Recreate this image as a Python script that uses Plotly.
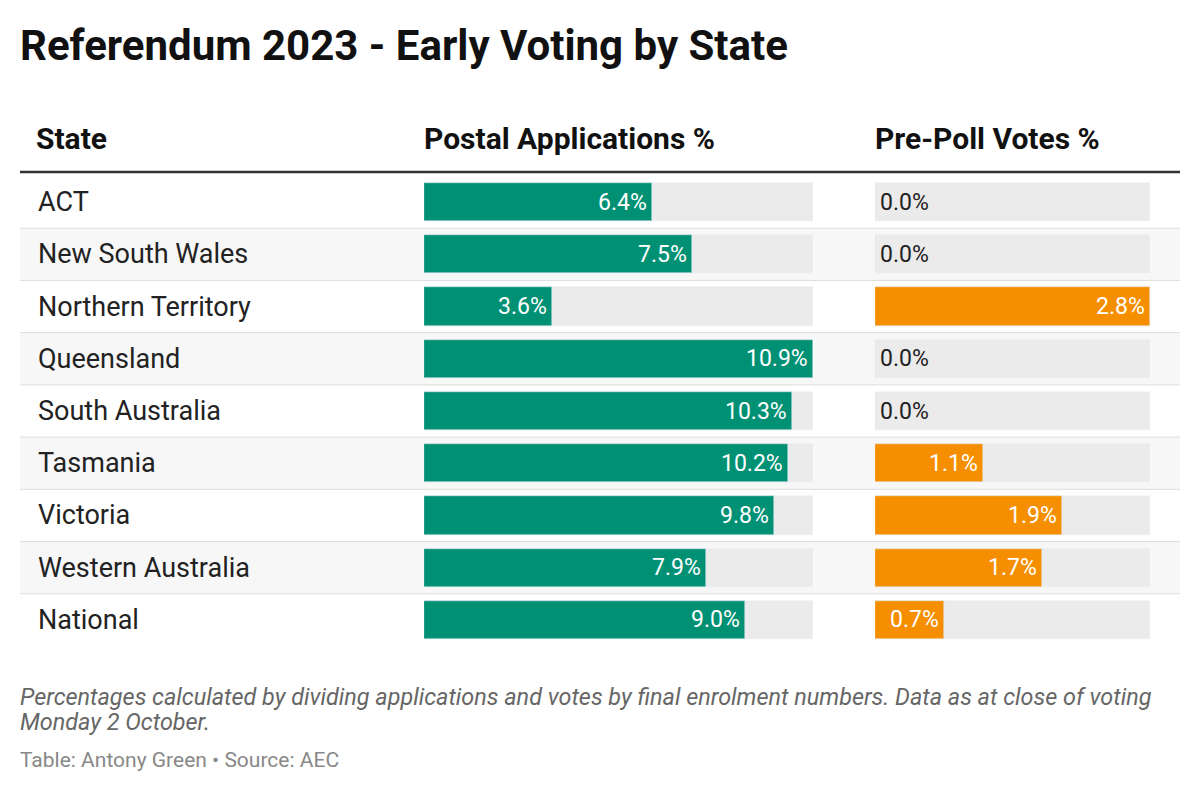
import plotly.graph_objects as go

states = ["ACT", "New South Wales", "Northern Territory", "Queensland", "South Australia",
          "Tasmania", "Victoria", "Western Australia", "National"]
postal = [6.4, 7.5, 3.6, 10.9, 10.3, 10.2, 9.8, 7.9, 9.0]
prepoll = [0.0, 0.0, 2.8, 0.0, 0.0, 1.1, 1.9, 1.7, 0.7]

W, H = 1200, 792
O = 8  # page body margin compensation
def fx(x): return (x - O) / W
def fy(y): return 1 - (y - O) / H

idx = list(range(len(states)))
pmax, qmax = max(postal), max(prepoll)
green, orange, grey = "#009175", "#f68f00", "#ebebeb"
F = "Roboto"

fig = go.Figure()
fig.add_trace(go.Bar(x=[pmax]*9, y=idx, orientation="h", marker_color=grey, width=0.73,
                     xaxis="x", yaxis="y", hoverinfo="skip"))
fig.add_trace(go.Bar(x=postal, y=idx, orientation="h", marker_color=green, width=0.73,
                     xaxis="x", yaxis="y"))
fig.add_trace(go.Bar(x=[qmax]*9, y=idx, orientation="h", marker_color=grey, width=0.73,
                     xaxis="x2", yaxis="y2", hoverinfo="skip"))
fig.add_trace(go.Bar(x=prepoll, y=idx, orientation="h", marker_color=orange, width=0.73,
                     xaxis="x2", yaxis="y2"))

ann, shapes = [], []
for i, s in enumerate(states):
    if i % 2 == 1:
        shapes.append(dict(type="rect", xref="paper", yref="y", x0=fx(20), x1=fx(1180),
                           y0=i-0.5, y1=i+0.5, fillcolor="#f7f7f7", line_width=0, layer="below"))
    if i > 0:
        shapes.append(dict(type="line", xref="paper", yref="y", x0=fx(20), x1=fx(1180),
                           y0=i-0.5, y1=i-0.5, line=dict(color="#dddddd", width=1), layer="below"))
    ann.append(dict(x=fx(36), xref="paper", y=i, yref="y", text=s, showarrow=False,
                    xanchor="left", font=dict(size=27, color="#222", family=F)))
    ann.append(dict(x=postal[i], xref="x", y=i, yref="y", text=f"{postal[i]:.1f}%", showarrow=False,
                    xanchor="right", xshift=-3, font=dict(size=23, color="white", family=F)))
    if prepoll[i] > 0:
        ann.append(dict(x=prepoll[i], xref="x2", y=i, yref="y2", text=f"{prepoll[i]:.1f}%",
                        showarrow=False, xanchor="right", xshift=-3,
                        font=dict(size=23, color="white", family=F)))
    else:
        ann.append(dict(x=0, xref="x2", y=i, yref="y2", text=f"{prepoll[i]:.1f}%",
                        showarrow=False, xanchor="left", xshift=3,
                        font=dict(size=23, color="#222", family=F)))

def px(x, y, text, size, color="#111", bold=False, italic=False):
    t = f"<b>{text}</b>" if bold else text
    t = f"<i>{t}</i>" if italic else t
    ann.append(dict(x=fx(x), y=fy(y), xref="paper", yref="paper", text=t, showarrow=False,
                    xanchor="left", yanchor="middle", font=dict(size=size, color=color, family=F)))

px(18, 45, "Referendum 2023 - Early Voting by State", 42, "#111", bold=True)
px(34, 138, "State", 30, bold=True)
px(422, 138, "Postal Applications %", 30, bold=True)
px(873, 138, "Pre-Poll Votes %", 30, bold=True)
px(18, 697, "Percentages calculated by dividing applications and votes by final enrolment numbers. Data as at close of voting", 23.4, "#666", italic=True)
px(18, 722, "Monday 2 October.", 23.4, "#666", italic=True)
px(18, 760, "Table: Antony Green • Source: AEC", 21, "#888")
shapes.append(dict(type="line", xref="paper", yref="paper", x0=fx(20), x1=fx(1180),
                   y0=fy(172), y1=fy(172), line=dict(color="#333", width=2.5)))

yd = [fy(646), fy(176)]
fig.update_layout(
    width=W, height=H, margin=dict(l=0, r=0, t=0, b=0), barmode="overlay",
    plot_bgcolor="white", paper_bgcolor="white", showlegend=False, bargap=0,
    xaxis=dict(domain=[fx(424), fx(813)], range=[0, pmax], visible=False),
    xaxis2=dict(domain=[fx(875), fx(1150)], range=[0, qmax], visible=False, anchor="y2"),
    yaxis=dict(domain=yd, range=[8.5, -0.5], visible=False),
    yaxis2=dict(domain=yd, range=[8.5, -0.5], visible=False, anchor="x2", overlaying="y"),
    annotations=ann, shapes=shapes,
)
fig.write_html("out.html")
